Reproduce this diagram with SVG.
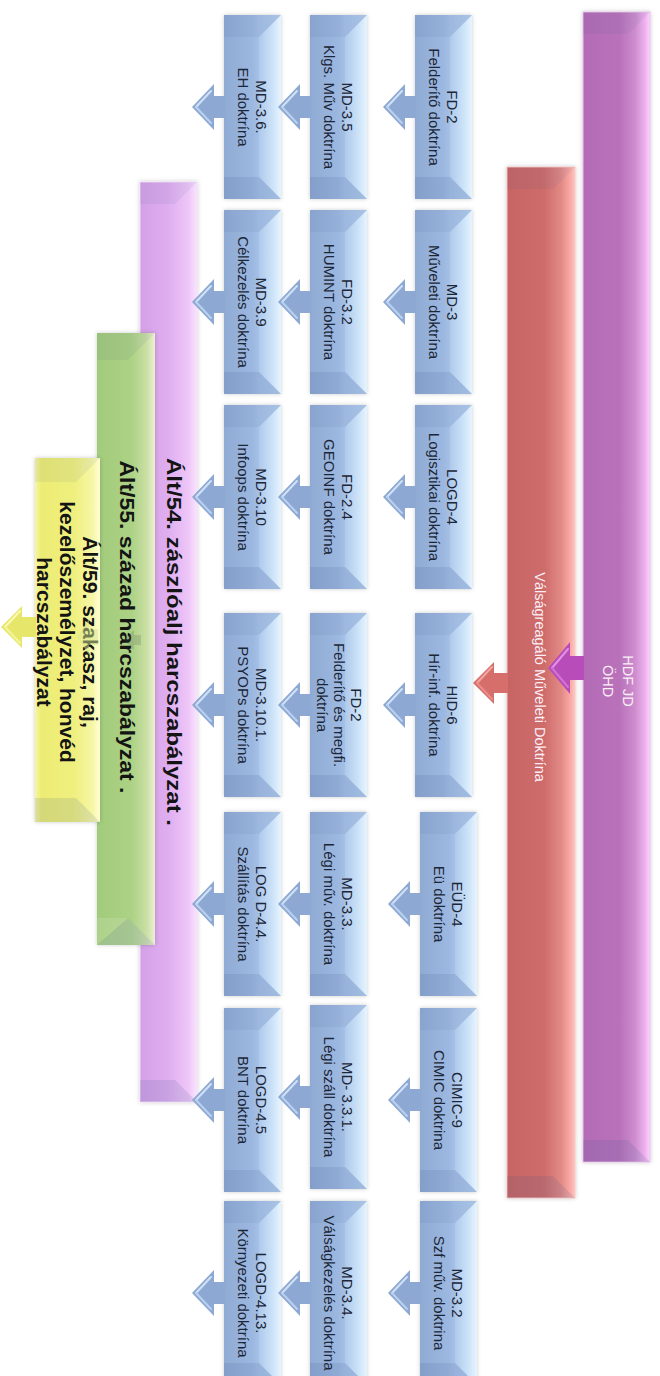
<svg xmlns="http://www.w3.org/2000/svg" width="660" height="1376" viewBox="0 0 660 1376">
<style>
.bt{font-family:"Liberation Sans",Arial,sans-serif;font-size:15px;fill:#1B2636;text-anchor:middle}
.wt{font-family:"Liberation Sans",Arial,sans-serif;font-size:14.5px;fill:#FBEFF7;text-anchor:middle}
.big{font-family:"Liberation Sans",Arial,sans-serif;font-size:21px;font-weight:bold;fill:#141414;text-anchor:middle}
.bvT{fill:#3E5E92;opacity:.08}
.bvB{fill:#34548A;opacity:.13}
.hl{fill:none;stroke-width:2;stroke-linecap:round}
</style>
<defs>
<linearGradient id="gBlue" x1="0" y1="0" x2="1" y2="0">
<stop offset="0" stop-color="#8FAAD3"/><stop offset=".5" stop-color="#9DB8E0"/><stop offset=".62" stop-color="#A6C1E7"/><stop offset="1" stop-color="#B3CDEE"/>
</linearGradient>
<linearGradient id="gBlueR" x1="0" y1="0" x2="1" y2="0">
<stop offset="0" stop-color="#AFC9EB"/><stop offset=".6" stop-color="#CBE2F8"/><stop offset="1" stop-color="#E6F4FF"/>
</linearGradient>
<linearGradient id="gPur" x1="0" y1="0" x2="1" y2="0">
<stop offset="0" stop-color="#B46BB6"/><stop offset=".55" stop-color="#B972BA"/><stop offset=".78" stop-color="#CE8DCF"/><stop offset=".93" stop-color="#EFB3F0"/><stop offset="1" stop-color="#FFD2FF"/>
</linearGradient>
<linearGradient id="gRed" x1="0" y1="0" x2="1" y2="0">
<stop offset="0" stop-color="#C76464"/><stop offset=".55" stop-color="#CE6C6B"/><stop offset=".8" stop-color="#E28A86"/><stop offset=".94" stop-color="#FCACA7"/><stop offset="1" stop-color="#FFC6C2"/>
</linearGradient>
<linearGradient id="gLav" x1="0" y1="0" x2="1" y2="0">
<stop offset="0" stop-color="#D4A0E7"/><stop offset=".5" stop-color="#DFAEF0"/><stop offset=".85" stop-color="#EEC6F8"/><stop offset="1" stop-color="#F9E4FF"/>
</linearGradient>
<linearGradient id="gGrn" x1="0" y1="0" x2="1" y2="0">
<stop offset="0" stop-color="#A2CB7B"/><stop offset=".6" stop-color="#ADD285"/><stop offset=".85" stop-color="#C9DEA3"/><stop offset="1" stop-color="#EEF0D2"/>
</linearGradient>
<linearGradient id="gYel" x1="0" y1="0" x2="1" y2="0">
<stop offset="0" stop-color="#F6F6A6"/><stop offset=".1" stop-color="#ECEC74"/><stop offset=".6" stop-color="#EFEF7E"/><stop offset=".88" stop-color="#F6F6A6"/><stop offset="1" stop-color="#FFFFD2"/>
</linearGradient>
<filter id="sh" x="-15%" y="-5%" width="130%" height="110%">
<feDropShadow dx="0" dy="0" stdDeviation="2" flood-color="#000" flood-opacity=".2"/>
</filter>
<g id="bb">
<rect width="57" height="184" fill="url(#gBlue)"/>
<polygon points="57,0 57,184 35,162 35,22" fill="url(#gBlueR)"/>
<polygon points="0,0 57,0 35,22 0,22" class="bvT"/>
<polygon points="0,184 57,184 35,162 0,162" class="bvB"/>
</g>
<g id="arB">
<path d="M0,0 L22,-23 L22,-11 L33,-11 L33,11 L22,11 L22,23 Z" fill="#8DA8D2"/>
<polyline points="4,0 19,-16" class="hl" stroke="#CFE1F6"/>
<polyline points="4,0 19,16" class="hl" stroke="#B9D0EE"/>
</g>
</defs>

<g id="n-hdf">
<rect x="583" y="12" width="67" height="1150" fill="url(#gPur)" stroke="#E7C3E8" stroke-width="1" filter="url(#sh)"/>
<polygon points="583,12 650,12 628,34 583,34" class="bvT"/>
<polygon points="583,1162 650,1162 628,1140 583,1140" class="bvB"/>
<text class="wt" transform="translate(617,681) rotate(90)"><tspan x="0" y="-6">HDF JD</tspan><tspan x="0" y="14">ÖHD</tspan></text>
</g>
<g id="n-valsag">
<rect x="507" y="167" width="68" height="1031" fill="url(#gRed)" stroke="#F4C6C4" stroke-width="1" filter="url(#sh)"/>
<polygon points="507,167 575,167 553,189 507,189" class="bvT"/>
<polygon points="507,1198 575,1198 553,1176 507,1176" class="bvB"/>
<text class="wt" transform="translate(540,677) rotate(90)" x="0" y="5">Válságreagáló Műveleti Doktrína</text>
</g>
<g id="n-alt54">
<rect x="140" y="182" width="57" height="920" fill="url(#gLav)" stroke="#F3DDF8" stroke-width="1" filter="url(#sh)"/>
<polygon points="140,182 197,182 175,204 140,204" class="bvT"/>
<polygon points="140,1102 197,1102 175,1080 140,1080" class="bvB"/>
<text class="big" transform="translate(174,642) rotate(90)" x="0" y="7.5" textLength="368" lengthAdjust="spacingAndGlyphs">Ált/54. zászlóalj harcszabályzat .</text>
</g>
<g id="n-alt55">
<rect x="97" y="333" width="58" height="612" fill="url(#gGrn)" filter="url(#sh)"/>
<polygon points="97,333 155,333 128,360 97,360" class="bvT"/>
<polygon points="97,945 155,945 128,918 97,918" fill="#FFFFFF" opacity=".12"/>
<polygon points="155,945 128,918 97,945" class="bvB"/>
<text class="big" transform="translate(127,627) rotate(90)" x="0" y="7.5" textLength="333" lengthAdjust="spacingAndGlyphs">Ált/55. század harcszabályzat .</text>
</g>
<g id="n-alt59">
<rect x="35" y="458" width="65" height="364" fill="url(#gYel)" filter="url(#sh)"/>
<polygon points="35,458 100,458 76,482 35,482" class="bvT"/>
<polygon points="35,822 100,822 76,798 35,798" class="bvB"/>
<text class="big" transform="translate(67,632) rotate(90)"><tspan x="0" y="-16">Ált/59. szakasz, raj,</tspan><tspan x="0" y="7">kezelőszemélyzet, honvéd</tspan><tspan x="0" y="30">harcszabályzat</tspan></text>
</g>

<g id="n-fd2"><use href="#bb" x="415" y="15" filter="url(#sh)"/><text class="bt" transform="translate(442.5,107) rotate(90)"><tspan x="0" y="-4">FD-2</tspan><tspan x="0" y="13.5">Felderítő doktrína</tspan></text></g>
<g id="n-md3"><use href="#bb" x="415" y="210" filter="url(#sh)"/><text class="bt" transform="translate(442.5,302) rotate(90)"><tspan x="0" y="-4">MD-3</tspan><tspan x="0" y="13.5">Műveleti doktrína</tspan></text></g>
<g id="n-logd4"><use href="#bb" x="415" y="405" filter="url(#sh)"/><text class="bt" transform="translate(442.5,497) rotate(90)"><tspan x="0" y="-4">LOGD-4</tspan><tspan x="0" y="13.5">Logisztikai doktrína</tspan></text></g>
<g id="n-hid6"><use href="#bb" x="415" y="613" filter="url(#sh)"/><text class="bt" transform="translate(442.5,705) rotate(90)"><tspan x="0" y="-4">HID-6</tspan><tspan x="0" y="13.5">Hír-inf. doktrína</tspan></text></g>
<g id="n-eud4"><use href="#bb" x="420" y="812" filter="url(#sh)"/><text class="bt" transform="translate(447.5,904) rotate(90)"><tspan x="0" y="-4">EÜD-4</tspan><tspan x="0" y="13.5">Eü doktrína</tspan></text></g>
<g id="n-cimic9"><use href="#bb" x="420" y="1008" filter="url(#sh)"/><text class="bt" transform="translate(447.5,1100) rotate(90)"><tspan x="0" y="-4">CIMIC-9</tspan><tspan x="0" y="13.5">CIMIC doktrina</tspan></text></g>
<g id="n-md32"><use href="#bb" x="420" y="1201" filter="url(#sh)"/><text class="bt" transform="translate(447.5,1293) rotate(90)"><tspan x="0" y="-4">MD-3.2</tspan><tspan x="0" y="13.5">Szf műv. doktrina</tspan></text></g>

<g id="n-md35"><use href="#bb" x="310" y="15" filter="url(#sh)"/><text class="bt" transform="translate(337.5,107) rotate(90)"><tspan x="0" y="-4">MD-3.5</tspan><tspan x="0" y="13.5">Klgs. Műv doktrína</tspan></text></g>
<g id="n-fd32"><use href="#bb" x="310" y="210" filter="url(#sh)"/><text class="bt" transform="translate(337.5,302) rotate(90)"><tspan x="0" y="-4">FD-3.2</tspan><tspan x="0" y="13.5">HUMINT doktrína</tspan></text></g>
<g id="n-fd24"><use href="#bb" x="310" y="405" filter="url(#sh)"/><text class="bt" transform="translate(337.5,497) rotate(90)"><tspan x="0" y="-4">FD-2.4</tspan><tspan x="0" y="13.5">GEOINF doktrína</tspan></text></g>
<g id="n-fd2b"><use href="#bb" x="310" y="613" filter="url(#sh)"/><text class="bt" transform="translate(337.5,705) rotate(90)"><tspan x="0" y="-13">FD-2</tspan><tspan x="0" y="4">Felderítő és megfi.</tspan><tspan x="0" y="21">doktrína</tspan></text></g>
<g id="n-md33"><use href="#bb" x="310" y="812" filter="url(#sh)"/><text class="bt" transform="translate(337.5,904) rotate(90)"><tspan x="0" y="-4">MD-3.3.</tspan><tspan x="0" y="13.5">Légi műv. doktrína</tspan></text></g>
<g id="n-md331"><use href="#bb" x="310" y="1005" filter="url(#sh)"/><text class="bt" transform="translate(337.5,1097) rotate(90)"><tspan x="0" y="-4">MD- 3.3.1.</tspan><tspan x="0" y="13.5">Légi száll doktrína</tspan></text></g>
<g id="n-md34"><use href="#bb" x="310" y="1201" filter="url(#sh)"/><text class="bt" transform="translate(337.5,1293) rotate(90)"><tspan x="0" y="-4">MD-3.4.</tspan><tspan x="0" y="13.5">Válságkezelés doktrína</tspan></text></g>

<g id="n-md36"><use href="#bb" x="224" y="15" filter="url(#sh)"/><text class="bt" transform="translate(251.5,107) rotate(90)"><tspan x="0" y="-4">MD-3.6.</tspan><tspan x="0" y="13.5">EH doktrína</tspan></text></g>
<g id="n-md39"><use href="#bb" x="224" y="210" filter="url(#sh)"/><text class="bt" transform="translate(251.5,302) rotate(90)"><tspan x="0" y="-4">MD-3.9</tspan><tspan x="0" y="13.5">Célkezelés doktrína</tspan></text></g>
<g id="n-md310"><use href="#bb" x="224" y="405" filter="url(#sh)"/><text class="bt" transform="translate(251.5,497) rotate(90)"><tspan x="0" y="-4">MD-3.10</tspan><tspan x="0" y="13.5">Infoops doktrína</tspan></text></g>
<g id="n-md3101"><use href="#bb" x="224" y="613" filter="url(#sh)"/><text class="bt" transform="translate(251.5,705) rotate(90)"><tspan x="0" y="-4">MD-3.10.1.</tspan><tspan x="0" y="13.5">PSYOPs doktrína</tspan></text></g>
<g id="n-logd44"><use href="#bb" x="224" y="812" filter="url(#sh)"/><text class="bt" transform="translate(251.5,904) rotate(90)"><tspan x="0" y="-4">LOG D-4.4.</tspan><tspan x="0" y="13.5">Szállítás doktrína</tspan></text></g>
<g id="n-logd45"><use href="#bb" x="224" y="1008" filter="url(#sh)"/><text class="bt" transform="translate(251.5,1100) rotate(90)"><tspan x="0" y="-4">LOGD-4.5</tspan><tspan x="0" y="13.5">BNT doktrína</tspan></text></g>
<g id="n-logd413"><use href="#bb" x="224" y="1201" filter="url(#sh)"/><text class="bt" transform="translate(251.5,1293) rotate(90)"><tspan x="0" y="-4">LOGD-4.13.</tspan><tspan x="0" y="13.5">Környezeti doktrína</tspan></text></g>

<g id="connectors">
<use href="#arB" x="383" y="107"/>
<use href="#arB" x="383" y="302"/>
<use href="#arB" x="383" y="497"/>
<use href="#arB" x="383" y="705"/>
<use href="#arB" x="388" y="904"/>
<use href="#arB" x="388" y="1100"/>
<use href="#arB" x="388" y="1293"/>
<use href="#arB" x="278" y="107"/>
<use href="#arB" x="278" y="302"/>
<use href="#arB" x="278" y="497"/>
<use href="#arB" x="278" y="705"/>
<use href="#arB" x="278" y="904"/>
<use href="#arB" x="278" y="1097"/>
<use href="#arB" x="278" y="1293"/>
<use href="#arB" x="192" y="107"/>
<use href="#arB" x="192" y="302"/>
<use href="#arB" x="192" y="497"/>
<use href="#arB" x="192" y="705"/>
<use href="#arB" x="192" y="904"/>
<use href="#arB" x="192" y="1100"/>
<use href="#arB" x="192" y="1293"/>
<path d="M548,668 L570,642 L570,656 L584,656 L584,680 L570,680 L570,694 Z" fill="#B84DB9"/>
<polyline points="552,668 568,649" class="hl" stroke="#E58FE6"/>
<polyline points="552,668 568,687" class="hl" stroke="#D173D2"/>
<path d="M473,683 L494,662 L494,673 L508,673 L508,693 L494,693 L494,704 Z" fill="#D66F6B"/>
<polyline points="477,683 492,667" class="hl" stroke="#F3A6A2"/>
<polyline points="477,683 492,699" class="hl" stroke="#EA8C88"/>
<path d="M124,640 L134,630 L134,635 L141,635 L141,645 L134,645 L134,650 Z" fill="#4A4A4A" opacity=".18"/>
<path d="M77,637 L89,619 L89,629 L98,629 L98,645 L89,645 L89,655 Z" fill="#D6E792" opacity=".5"/>
<path d="M1,627 L22,606 L22,617 L36,617 L36,637 L22,637 L22,648 Z" fill="#E6E66A"/>
<polyline points="5,627 20,611" class="hl" stroke="#FAFAB8"/>
<polyline points="5,627 20,643" class="hl" stroke="#F4F49A"/>
</g>
</svg>
